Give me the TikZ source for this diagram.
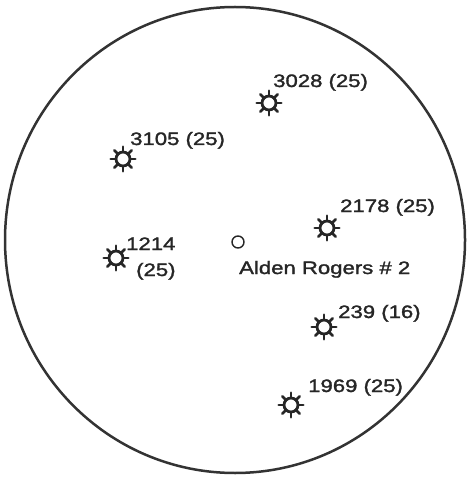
\documentclass[tikz,border=0pt]{standalone}
\usepackage{fontspec}
\usetikzlibrary{shapes.geometric}
\setmainfont[FakeStretch=1.23,FakeBold=1.6]{Liberation Sans}
\begin{document}
\begin{tikzpicture}[x=1pt,y=-1pt,
  ring/.style={circle,draw=black!85,line width=2.8pt,minimum size=14pt,inner sep=0pt},
  spike/.style={draw=black!85,line width=2.6pt,line cap=round},
  holemark/.style={circle,draw=black!85,line width=1.4pt,minimum size=12pt,inner sep=0pt},
  lbl/.style={font=\fontsize{18}{20}\selectfont,text=black!85,inner sep=0pt,anchor=base west}]
\useasboundingbox (0,0) rectangle (469,478);
% outer boundary
\node[draw=black!80,line width=2.5pt,ellipse,minimum width=460pt,minimum height=466pt,inner sep=0pt] (boundary) at (235,240) {};
% wells
\node[ring] (w3028) at (269,103) {};
\node[ring] (w3105) at (123,159) {};
\node[ring] (w2178) at (327,228) {};
\node[ring] (w1214) at (116,258) {};
\node[ring] (w239)  at (324,327) {};
\node[ring] (w1969) at (291,405) {};
\foreach \n in {w3028,w3105,w2178,w1214,w239,w1969}
  \foreach \a in {0,45,...,315}
    \draw[spike] (\n.center) ++(\a:8.5pt) -- ++(\a:3.8pt);
% Alden Rogers #2
\node[holemark] (alden) at (238,242) {};
% labels
\node[lbl] (t3028) at (273,87) {3028 (25)};
\node[lbl] (t3105) at (130,145) {3105 (25)};
\node[lbl] (t2178) at (340,212) {2178 (25)};
\node[lbl] (t1214a) at (126,250) {1214};
\node[lbl] (t1214b) at (136,276) {(25)};
\node[lbl] (talden) at (239,274) {Alden Rogers \# 2};
\node[lbl] (t239) at (338,318) {239 (16)};
\node[lbl] (t1969) at (308,392) {1969 (25)};
\end{tikzpicture}
\end{document}
